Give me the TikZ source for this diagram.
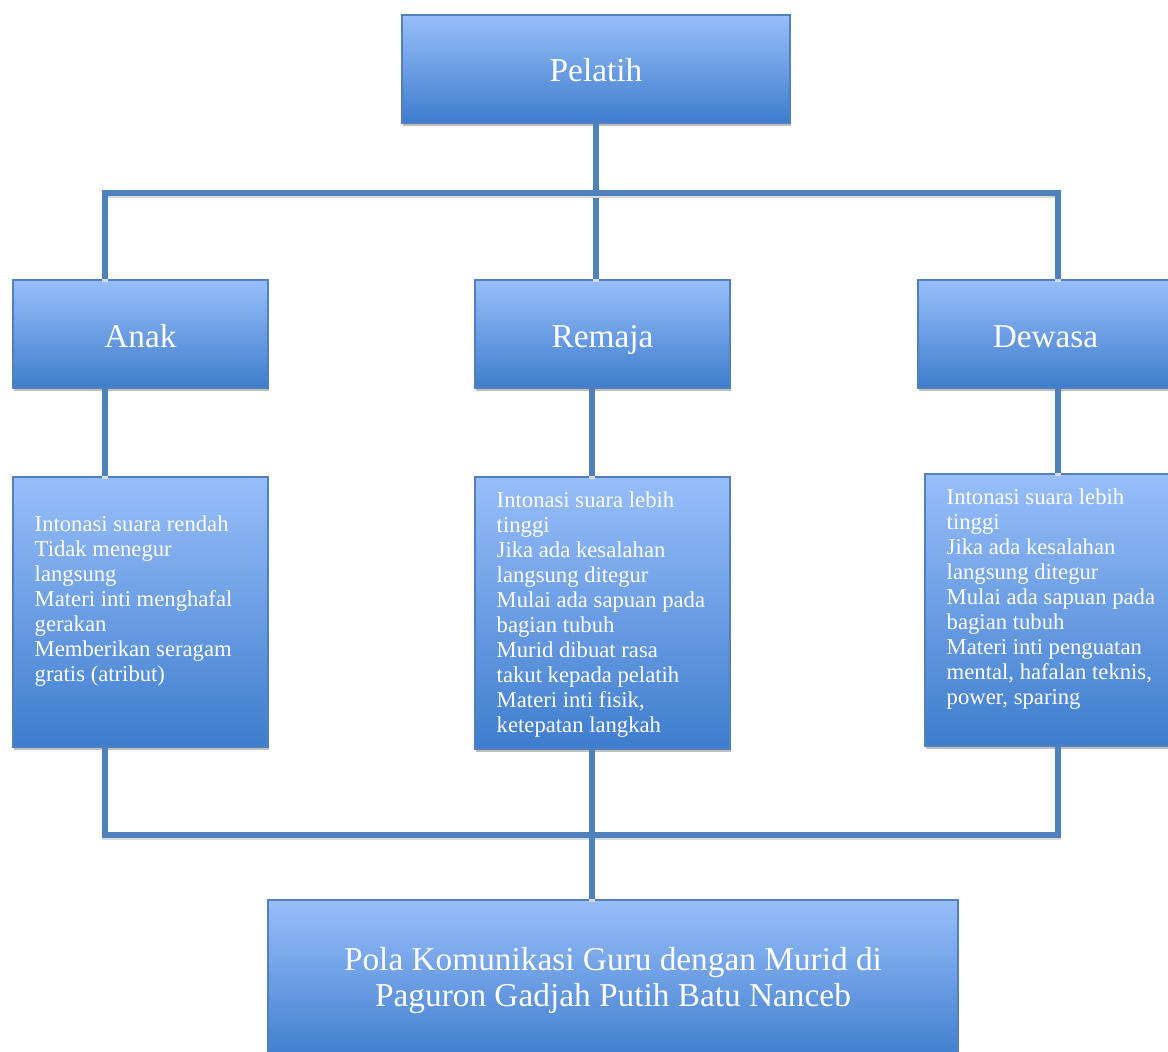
\documentclass[tikz,border=0pt]{standalone}
\usepackage{fontspec}
\setmainfont{Liberation Serif}
\usetikzlibrary{shadows}
\definecolor{boxtop}{RGB}{152,190,250}
\definecolor{boxbot}{RGB}{62,125,205}
\definecolor{boxline}{RGB}{82,128,188}
\definecolor{linkblue}{RGB}{79,129,189}

\begin{document}
\begin{tikzpicture}[x=0.75pt, y=-0.75pt,
  box/.style={draw=boxline, line width=0.8pt, top color=boxtop, bottom color=boxbot,
    drop shadow={shadow xshift=0.6pt, shadow yshift=-2.2pt, opacity=0.25, fill=black}, text=white, inner sep=0pt},
  head/.style={box, minimum width=191.25pt, minimum height=81pt, text height=22.5pt, text depth=3pt,
    font=\fontsize{25}{30}\selectfont},
  items/.style={text=white, align=left, anchor=north west, inner sep=0pt, font=\fontsize{17}{18.75}\selectfont},
  link/.style={draw=linkblue, line width=4pt, line join=miter,
    preaction={draw=black!15, line width=4pt, transform canvas={yshift=-2pt}}}]
  \useasboundingbox (0,0) rectangle (1168,1052);
  % Boxes
  \node[head, minimum width=291pt] (pelatih) at (596,69) {Pelatih};
  \node[head] (anak) at (140.5,334) {Anak};
  \node[head] (remaja) at (602.5,334) {Remaja};
  \node[head] (dewasa) at (1045.5,334) {Dewasa};
  \node[box, minimum width=191.25pt, minimum height=202.5pt] (anakdet) at (140.5,612) {};
  \node[box, minimum width=191.25pt, minimum height=204pt] (remajadet) at (602.5,613) {};
  \node[box, minimum width=191.25pt, minimum height=204pt] (dewasadet) at (1052.5,610) {};
  \node[box, minimum width=517.5pt, minimum height=121.5pt, align=center,
    font=\fontsize{25}{27}\selectfont] (pola) at (613,981)
    {Pola Komunikasi Guru dengan Murid di\\Paguron Gadjah Putih Batu Nanceb};
  % Texts in the detail boxes
  \node[items] (anaktxt) at ([xshift=16.5pt, yshift=-29.5pt]anakdet.north west)
    {Intonasi suara rendah\\Tidak menegur\\langsung\\Materi inti menghafal\\gerakan\\Memberikan seragam\\gratis (atribut)};
  \node[items] (remajatxt) at ([xshift=16.5pt, yshift=-11pt]remajadet.north west)
    {Intonasi suara lebih\\tinggi\\Jika ada kesalahan\\langsung ditegur\\Mulai ada sapuan pada\\bagian tubuh\\Murid dibuat rasa\\takut kepada pelatih\\Materi inti fisik,\\ketepatan langkah};
  \node[items] (dewasatxt) at ([xshift=16.5pt, yshift=-11.5pt]dewasadet.north west)
    {Intonasi suara lebih\\tinggi\\Jika ada kesalahan\\langsung ditegur\\Mulai ada sapuan pada\\bagian tubuh\\Materi inti penguatan\\mental, hafalan teknis,\\power, sparing};
  % Corners of the two bars
  \coordinate (tl) at (105,193);
  \coordinate (tr) at (1058,193);
  \coordinate (bl) at (105,835);
  \coordinate (br) at (1058,835);
  \coordinate (mid) at (592,835);
  % Upper bar
  \draw[link] (pelatih.south) -- (pelatih.south |- remaja.north);
  \draw[link] (tl |- anak.north) -- (tl) -- (tr) -- (tr |- dewasa.north);
  % Heads to details
  \draw[link] (tl |- anak.south) -- (tl |- anakdet.north);
  \draw[link] (mid |- remaja.south) -- (mid |- remajadet.north);
  \draw[link] (tr |- dewasa.south) -- (tr |- dewasadet.north);
  % Lower bar
  \draw[link] (tl |- anakdet.south) -- (bl) -- (br) -- (tr |- dewasadet.south);
  \draw[link] (mid |- remajadet.south) -- (mid |- pola.north);
\end{tikzpicture}
\end{document}
